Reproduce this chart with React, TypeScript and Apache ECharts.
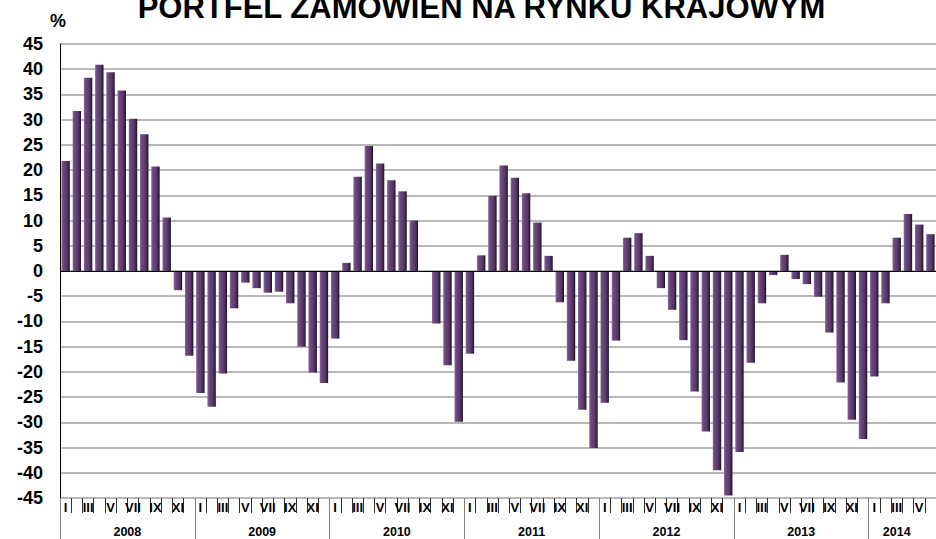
import React, { useEffect, useRef } from "react";
import * as echarts from "echarts";

const TITLE = "PORTFEL ZAMÓWIEŃ NA RYNKU KRAJOWYM";
const Y_UNIT = "%";
const MONTHS = ["I", "II", "III", "IV", "V", "VI", "VII", "VIII", "IX", "X", "XI", "XII"];
const YEARS = ["2008", "2009", "2010", "2011", "2012", "2013", "2014"];

const V2008 = [21.8, 31.7, 38.3, 40.9, 39.4, 35.8, 30.2, 27.1, 20.7, 10.6, -3.8, -16.8];
const V2009 = [-24.2, -26.9, -20.3, -7.4, -2.3, -3.4, -4.3, -4.1, -6.4, -15.0, -20.1, -22.2];
const V2010 = [-13.4, 1.6, 18.7, 24.8, 21.3, 18.0, 15.8, 10.0, -0.2, -10.4, -18.7, -29.9];
const V2011 = [-16.4, 3.1, 14.9, 20.9, 18.5, 15.4, 9.6, 3.0, -6.2, -17.8, -27.5, -35.1];
const V2012 = [-26.1, -13.8, 6.6, 7.5, 3.0, -3.4, -7.7, -13.7, -23.9, -31.8, -39.5, -44.5];
const V2013 = [-35.9, -18.2, -6.4, -0.8, 3.2, -1.6, -2.6, -5.1, -12.2, -22.1, -29.5, -33.3];
const V2014 = [-20.9, -6.4, 6.6, 11.3, 9.2, 7.3];

const VALUES_BY_YEAR = [V2008, V2009, V2010, V2011, V2012, V2013, V2014];

const SANS = "'Liberation Sans', Arial, sans-serif";

export default function App() {
  const ref = useRef<HTMLDivElement>(null);

  useEffect(() => {
    if (!ref.current) return;
    const chart = echarts.init(ref.current, null, { renderer: "svg" });

    const monthCats: string[] = [];
    const yearCats: string[] = [];
    const values: number[] = [];
    const yearStart: number[] = [];
    const yearLabelIdx: number[] = [];
    VALUES_BY_YEAR.forEach((arr, yi) => {
      yearStart.push(values.length);
      const mid = arr.length >= 12 ? values.length + 6 : values.length + Math.floor(arr.length / 2) - 1;
      yearLabelIdx.push(mid);
      arr.forEach((v, mi) => {
        monthCats.push(MONTHS[mi]);
        yearCats.push(YEARS[yi]);
        values.push(v);
      });
    });
    const fullYearIdx = new Set(yearLabelIdx.filter((_, i) => VALUES_BY_YEAR[i].length >= 12));

    const barColor = new echarts.graphic.LinearGradient(0, 0, 1, 0, [
      { offset: 0, color: "#8f6fa3" },
      { offset: 0.18, color: "#6d4c80" },
      { offset: 0.65, color: "#573869" },
      { offset: 0.85, color: "#3a2248" },
      { offset: 1, color: "#1f1028" },
    ]);

    chart.setOption({
      animation: false,
      backgroundColor: "#ffffff",
      grid: { left: 60, top: 44, width: 877.5, height: 454, containLabel: false },
      graphic: [
        {
          type: "text",
          x: 481.5,
          y: 7.5,
          style: {
            text: TITLE,
            font: `bold 31px ${SANS}`,
            fill: "#000",
            textAlign: "center",
            textVerticalAlign: "middle",
          },
        },
      ],
      xAxis: [
        {
          type: "category",
          data: monthCats,
          position: "bottom",
          axisLine: { show: false, onZero: false },
          axisTick: { show: true, interval: 0, length: 15, lineStyle: { color: "#333", width: 1 } },
          axisLabel: {
            interval: 1,
            margin: 3,
            fontFamily: SANS,
            fontWeight: "bold",
            fontSize: 13,
            color: "#000",
          },
          splitLine: { show: false },
        },
        {
          type: "category",
          data: yearCats,
          position: "bottom",
          axisLine: { show: false, onZero: false },
          axisTick: {
            show: true,
            interval: (i: number) => yearStart.indexOf(i) >= 0,
            length: 45,
            lineStyle: { color: "#808080", width: 1 },
          },
          axisLabel: {
            interval: (i: number) => yearLabelIdx.indexOf(i) >= 0,
            margin: 27,
            formatter: (v: string, i: number) => (fullYearIdx.has(i) ? `{a|${v}}` : `{b|${v}}`),
            rich: {
              a: { fontFamily: SANS, fontWeight: "bold", fontSize: 12.5, color: "#000", padding: [0, 11.25, 0, 0] },
              b: { fontFamily: SANS, fontWeight: "bold", fontSize: 12.5, color: "#000", padding: [0, 0, 0, 0] },
            },
          },
          splitLine: { show: false },
        },
      ],
      yAxis: {
        type: "value",
        min: -45,
        max: 45,
        interval: 5,
        name: Y_UNIT,
        nameLocation: "end",
        nameGap: 14,
        nameTextStyle: {
          fontFamily: SANS,
          fontWeight: "bold",
          fontSize: 18,
          color: "#000",
          padding: [0, 4, 0, 0],
        },
        axisLine: { show: true, lineStyle: { color: "#000", width: 1 } },
        axisTick: { show: false },
        splitLine: { show: true, lineStyle: { color: "#a0a0a0", width: 1.5 } },
        axisLabel: {
          fontFamily: SANS,
          fontWeight: "bold",
          fontSize: 18,
          color: "#000",
          margin: 17,
        },
      },
      series: [
        {
          type: "bar",
          data: values,
          xAxisIndex: 0,
          barCategoryGap: "25%",
          itemStyle: { color: barColor },
          markLine: {
            silent: true,
            symbol: "none",
            label: { show: false },
            lineStyle: { color: "#000", width: 1, type: "solid" },
            data: [{ yAxis: 0 }],
          },
        },
      ],
    });

    return () => chart.dispose();
  }, []);

  return (
    <div
      ref={ref}
      style={{ width: 936, height: 539, position: "absolute", left: 0, top: 0 }}
    />
  );
}
